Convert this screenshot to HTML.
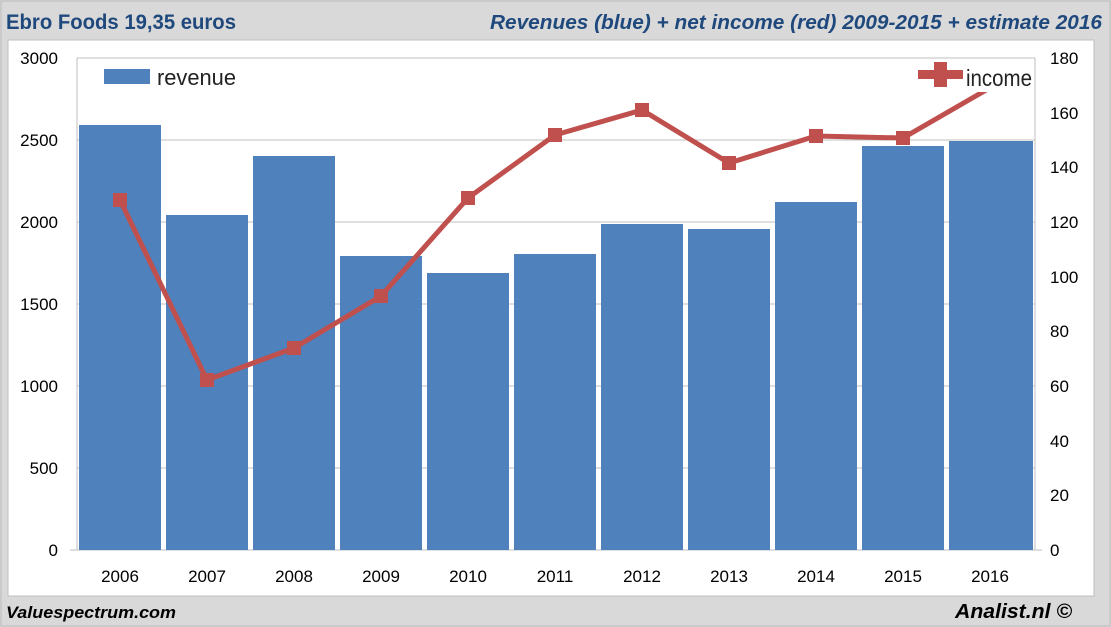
<!DOCTYPE html><html><head><style>body{margin:0;background:#d9d9d9}svg{display:block}</style></head><body>
<svg width="1111" height="627" xmlns="http://www.w3.org/2000/svg" font-family="Liberation Sans, sans-serif">
<rect width="1111" height="627" fill="#d9d9d9"/>
<rect x="1" y="1" width="1109" height="625" fill="none" stroke="#bbb"/>
<rect x="8" y="40" width="1086" height="556" fill="#fff" stroke="#bfbfbf"/>
<text x="6" y="29" font-size="21" font-weight="bold" fill="#1f497d" textLength="230" lengthAdjust="spacingAndGlyphs">Ebro Foods 19,35 euros</text>
<text x="490" y="29" font-size="20" font-weight="bold" font-style="italic" fill="#1f497d" textLength="612" lengthAdjust="spacingAndGlyphs">Revenues (blue) + net income (red) 2009-2015 + estimate 2016</text>
<g stroke="#bfbfbf" stroke-width="1">
<line x1="77" y1="58" x2="1035" y2="58"/><line x1="77" y1="140" x2="1035" y2="140"/><line x1="77" y1="222" x2="1035" y2="222"/><line x1="77" y1="304" x2="1035" y2="304"/><line x1="77" y1="386" x2="1035" y2="386"/><line x1="77" y1="468" x2="1035" y2="468"/>
<line x1="77" y1="58" x2="77" y2="550"/><line x1="1035" y1="58" x2="1035" y2="550"/>
<line x1="70" y1="550" x2="1042" y2="550"/>
</g>
<g fill="#4f81bd">
<rect x="79" y="125" width="82" height="425"/>
<rect x="166" y="215" width="82" height="335"/>
<rect x="253" y="156" width="82" height="394"/>
<rect x="340" y="256" width="82" height="294"/>
<rect x="427" y="273" width="82" height="277"/>
<rect x="514" y="254" width="82" height="296"/>
<rect x="601" y="224" width="82" height="326"/>
<rect x="688" y="229" width="82" height="321"/>
<rect x="775" y="202" width="82" height="348"/>
<rect x="862" y="146" width="82" height="404"/>
<rect x="949" y="141" width="84" height="409"/>
</g>
<g font-size="17" fill="#000" text-anchor="end">
<text x="58" y="64">3000</text><text x="58" y="146">2500</text><text x="58" y="228">2000</text><text x="58" y="310">1500</text><text x="58" y="392">1000</text><text x="58" y="474">500</text><text x="58" y="556">0</text>
</g>
<g font-size="17" fill="#000">
<text x="1050" y="64">180</text><text x="1050" y="119">160</text><text x="1050" y="173">140</text><text x="1050" y="228">120</text><text x="1050" y="283">100</text><text x="1050" y="337">80</text><text x="1050" y="392">60</text><text x="1050" y="447">40</text><text x="1050" y="501">20</text><text x="1050" y="556">0</text>
</g>
<g font-size="17" fill="#000" text-anchor="middle">
<text x="120" y="582">2006</text><text x="207" y="582">2007</text><text x="294" y="582">2008</text><text x="381" y="582">2009</text><text x="468" y="582">2010</text><text x="555" y="582">2011</text><text x="642" y="582">2012</text><text x="729" y="582">2013</text><text x="816" y="582">2014</text><text x="903" y="582">2015</text><text x="990" y="582">2016</text>
</g>
<polyline points="120,200 207,380 294,348 381,296 468,198 555,135 642,110 729,163 816,136 903,138 1000,82" fill="none" stroke="#c0504d" stroke-width="5"/>
<g fill="#c0504d">
<rect x="113" y="193" width="14" height="14"/><rect x="200" y="373" width="14" height="14"/><rect x="287" y="341" width="14" height="14"/><rect x="374" y="289" width="14" height="14"/><rect x="461" y="191" width="14" height="14"/><rect x="548" y="128" width="14" height="14"/><rect x="635" y="103" width="14" height="14"/><rect x="722" y="156" width="14" height="14"/><rect x="809" y="129" width="14" height="14"/><rect x="896" y="131" width="14" height="14"/>
</g>
<rect x="104" y="69" width="46" height="15" fill="#4f81bd"/>
<text x="157" y="85" font-size="22" fill="#222" textLength="79" lengthAdjust="spacingAndGlyphs">revenue</text>
<rect x="918" y="62" width="115" height="30" fill="#fff"/>
<rect x="918" y="70" width="45" height="9" fill="#c0504d"/>
<rect x="934" y="62" width="13" height="25" fill="#c0504d"/>
<text x="966" y="86" font-size="23" fill="#222" textLength="66" lengthAdjust="spacingAndGlyphs">income</text>
<text x="6" y="618" font-size="17" font-weight="bold" font-style="italic" fill="#000" textLength="170" lengthAdjust="spacingAndGlyphs">Valuespectrum.com</text>
<text x="955" y="618" font-size="20" font-weight="bold" font-style="italic" fill="#000" textLength="117" lengthAdjust="spacingAndGlyphs">Analist.nl ©</text>
</svg>
</body></html>
